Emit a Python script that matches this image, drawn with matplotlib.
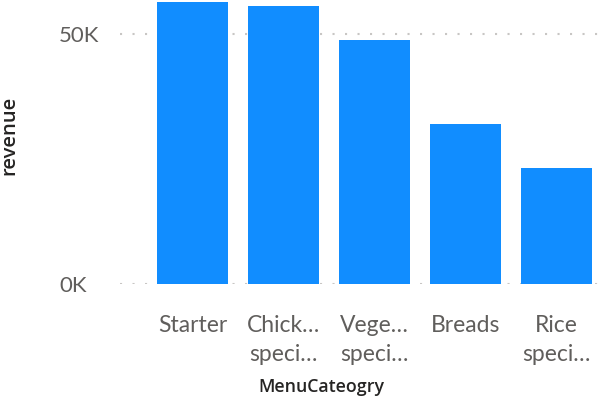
import matplotlib
matplotlib.use("Agg")
import matplotlib.pyplot as plt

categories = ["Starter", "Chick…\nspeci…", "Vege…\nspeci…", "Breads", "Rice\nspeci…"]
revenue = [56.5, 55.7, 48.9, 32.1, 23.2]  # thousands
yticks = [0, 50]
ytick_labels = ["0K", "50K"]

plt.rcParams["font.family"] = ["Lato", "DejaVu Sans"]

fig = plt.figure(figsize=(6.11, 4.01), dpi=100)
ax = fig.add_axes([120 / 611, (401 - 284) / 401, (602 - 120) / 611, 284 / 401])

x = list(range(len(categories)))
ax.bar(x, revenue, width=0.78, color="#118DFF", zorder=2)

ax.set_xlim(-0.797, 4.5)
ax.set_ylim(0, 56.9)

ax.set_yticks(yticks)
ax.set_yticklabels(ytick_labels, fontsize=16, color="#605E5C")
for lbl in ax.get_yticklabels():
    lbl.set_horizontalalignment("left")
ax.tick_params(axis="y", length=0, pad=44)

ax.set_xticks(x)
ax.set_xticklabels(categories, fontsize=16.5, color="#605E5C", linespacing=1.5)
ax.tick_params(axis="x", length=0, pad=22)

ax.grid(axis="y", color="#C8C6C4", linestyle=(0, (1, 5)), linewidth=1.5, zorder=1)
for s in ax.spines.values():
    s.set_visible(False)

title_font = ["Open Sans", "DejaVu Sans"]
fig.text(9 / 611, 1 - 135 / 401, "revenue", rotation=90, ha="center", va="center",
         fontsize=14.5, color="#252423", fontweight="semibold", family=title_font)
fig.text(321 / 611, 1 - 387 / 401, "MenuCateogry", ha="center", va="center",
         fontsize=12.8, color="#252423", fontweight="semibold", family=title_font)

fig.savefig("out.png", dpi=100)
